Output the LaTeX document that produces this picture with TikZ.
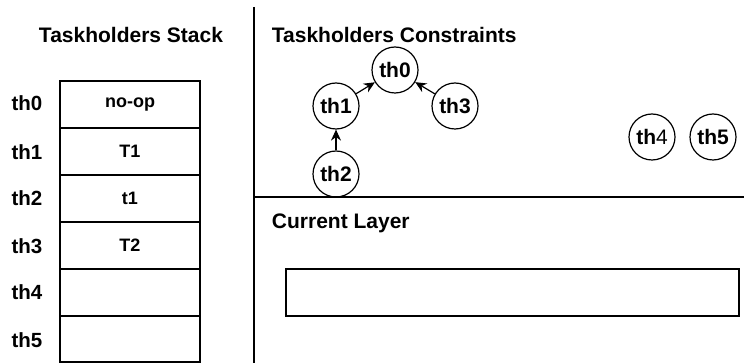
\documentclass[tikz,border=0pt]{standalone}
\usepackage{fontspec}
\setmainfont{Liberation Sans}
\usetikzlibrary{arrows.meta}
\begin{document}
\begin{tikzpicture}[x=1pt,y=-1pt,
  line width=1.2pt,
  title/.style={font=\bfseries\fontsize{21}{24}\selectfont},
  rowlab/.style={font=\bfseries\fontsize{20.5}{24}\selectfont},
  cell/.style={draw, minimum width=140pt, minimum height=47pt, font=\bfseries\fontsize{18}{20}\selectfont, inner sep=0pt},
  th/.style={draw, circle, minimum size=46pt, inner sep=0pt, font=\bfseries\fontsize{21}{24}\selectfont},
  arr/.style={-{Stealth[length=11pt,width=10pt]}, line width=1.2pt}]
\useasboundingbox (0,0) rectangle (744,363);
% dividers
\draw (254,7) coordinate (vtop) -- (254,363) coordinate (vbot);
\draw (254,197) coordinate (hl) -- (744,197) coordinate (hr);
% titles
\node[title] (tstack) at (131,35) {Taskholders Stack};
\node[title, anchor=west] (tcons) at (268,35) {Taskholders Constraints};
\node[title, anchor=west] (tcur) at (268,223) {Current Layer};
% stack
\node[cell] (c0) at (130,104.5) {no-op};
\node[cell] (c1) at (130,151.5) {T1};
\node[cell] (c2) at (130,198.5) {t1};
\node[cell] (c3) at (130,245.5) {T2};
\node[cell] (c4) at (130,292.5) {};
\node[cell, minimum height=46pt] (c5) at (130,339) {};
\node[rowlab] (l0) at (27,103) {th0};
\node[rowlab] (l1) at (27,152) {th1};
\node[rowlab] (l2) at (27,198) {th2};
\node[rowlab] (l3) at (27,246) {th3};
\node[rowlab] (l4) at (27,292) {th4};
\node[rowlab] (l5) at (27,340) {th5};
% constraints
\node[th] (n0) at (395,70) {th0};
\node[th] (n1) at (336,106) {th1};
\node[th] (n3) at (455,106) {th3};
\node[th] (n2) at (336,174) {th2};
\node[th] (n4) at (652,137) {th\textmd{4}};
\node[th] (n5) at (713,137) {th5};
\draw[arr] (n2) -- (n1);
\draw[arr] (n1) -- (n0);
\draw[arr] (n3) -- (n0);
% current layer box
\node[draw, minimum width=453pt, minimum height=47pt, inner sep=0pt] (cl) at (512.5,292.5) {};
\end{tikzpicture}
\end{document}
